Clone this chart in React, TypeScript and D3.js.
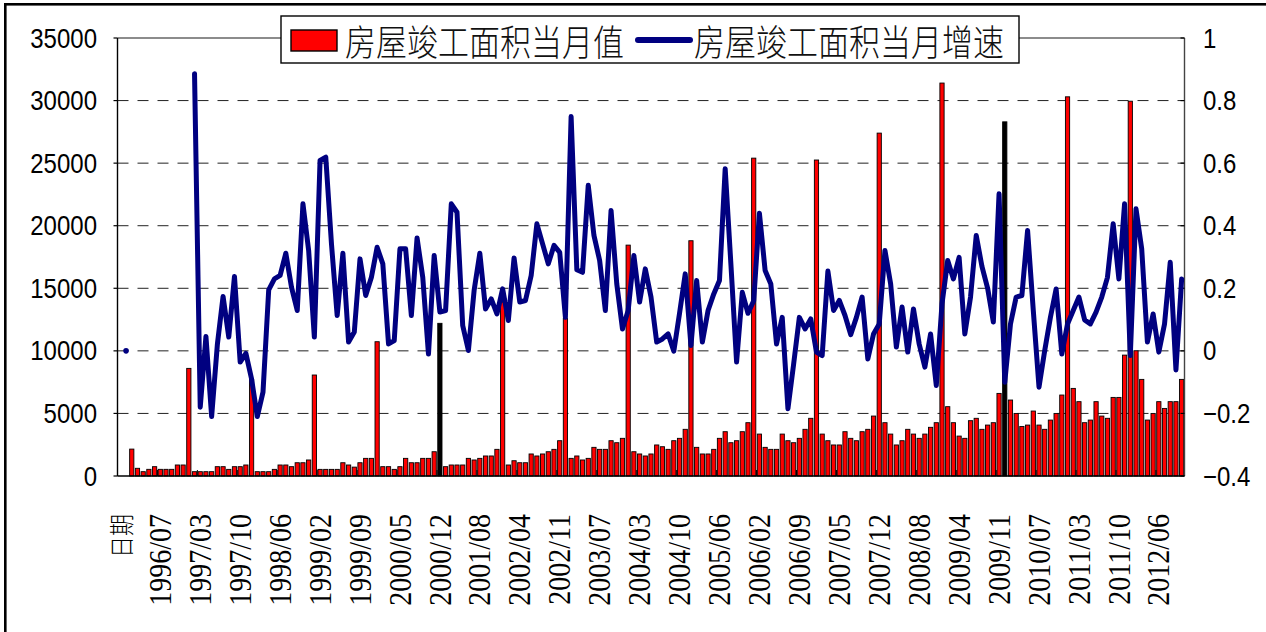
import React from 'react';
import * as d3 from 'd3';

// ---------- DATA ----------
function buildCategories(): string[] {
  const out: string[] = ['日期'];
  for (let m = 1; m <= 12; m++) out.push(`1996/${String(m).padStart(2, '0')}`);
  for (let y = 1997; y <= 2012; y++) {
    for (let m = 2; m <= 12; m++) {
      if (y === 2012 && m > 10) break;
      out.push(`${y}/${String(m).padStart(2, '0')}`);
    }
  }
  return out;
}
const categories: string[] = buildCategories();

const tickLabels: string[] = [
  '日期', '1996/07', '1997/03', '1997/10', '1998/06', '1999/02', '1999/09', '2000/05', '2000/12',
  '2001/08', '2002/04', '2002/11', '2003/07', '2004/03', '2004/10', '2005/06', '2006/02', '2006/09',
  '2007/05', '2007/12', '2008/08', '2009/04', '2009/11', '2010/07', '2011/03', '2011/10', '2012/06',
];

// 房屋竣工面积当月值 (left axis)
const completedArea: (number | null)[] = [
  null, null, 2150, 615, 345, 533, 745, 533, 533, 533, 880, 880, 8600,
  345, 345, 345, 345, 745, 745, 530, 745, 745, 880, 7720,
  345, 345, 345, 530, 880, 880, 745, 1060, 1060, 1280, 8070,
  530, 530, 530, 530, 1060, 880, 710, 1060, 1410, 1410, 10730,
  745, 745, 530, 745, 1410, 1060, 1060, 1410, 1410, 1940, 12200,
  745, 880, 880, 880, 1410, 1280, 1410, 1600, 1600, 2130, 13900,
  880, 1220, 1060, 1060, 1760, 1600, 1760, 1940, 2130, 2820, 12600,
  1410, 1600, 1280, 1410, 2290, 2130, 2130, 2820, 2660, 3010, 18450,
  1940, 1760, 1600, 1760, 2480, 2340, 2130, 2820, 3010, 3730, 18800,
  2290, 1760, 1760, 2130, 3010, 3540, 2660, 2820, 3540, 4260, 25400,
  3350, 2290, 2130, 2130, 3350, 2820, 2660, 3010, 3730, 4610, 25250,
  3350, 2820, 2480, 2480, 3540, 3010, 2820, 3540, 3730, 4790, 27400,
  4260, 3350, 2480, 2820, 3730, 3350, 3010, 3350, 3890, 4260, 31400,
  5540, 4260, 3190, 3010, 4420, 4610, 3730, 4070, 4260, 6600, 28300,
  6070, 5000, 3960, 4070, 5190, 4070, 3730, 4470, 5000, 6470, 30300,
  7000, 5940, 4260, 4470, 5940, 4790, 4610, 6280, 6280, 9660, 29950,
  10010, 7720, 4470, 5000, 5940, 5400, 5940, 5940, 7720,
];

// 房屋竣工面积当月增速 (right axis)
const growthRate: (number | null)[] = [
  null, 0, null, null, null, null, null, null, null, null, null, null, null,
  0.886, -0.18, 0.046, -0.21, 0.02, 0.174, 0.044, 0.238, -0.036, -0.008, -0.09,
  -0.21, -0.132, 0.195, 0.23, 0.241, 0.312, 0.203, 0.129, 0.47, 0.321, 0.044,
  0.609, 0.619, 0.342, 0.113, 0.312, 0.028, 0.06, 0.294, 0.177, 0.235, 0.331,
  0.278, 0.022, 0.033, 0.326, 0.326, 0.113, 0.361, 0.235, -0.01, 0.305, 0.124,
  0.129, 0.47, 0.443, 0.081, 0.001, 0.193, 0.312, 0.134, 0.166, 0.118, 0.198,
  0.097, 0.297, 0.156, 0.161, 0.241, 0.406, 0.342, 0.278, 0.337, 0.315, 0.107,
  0.749, 0.259, 0.251, 0.529, 0.369, 0.289, 0.129, 0.449, 0.214, 0.07, 0.129,
  0.305, 0.156, 0.262, 0.172, 0.028, 0.038, 0.054, -0.001, 0.12, 0.246, 0.017,
  0.225, 0.028, 0.129, 0.182, 0.225, 0.582, 0.278, -0.036, 0.187, 0.12, 0.16,
  0.44, 0.257, 0.214, 0.022, 0.107, -0.185, -0.042, 0.107, 0.07, 0.102, -0.004,
  -0.015, 0.255, 0.129, 0.161, 0.113, 0.052, 0.107, 0.172, -0.026, 0.054, 0.086,
  0.321, 0.214, 0.012, 0.14, -0.004, 0.134, 0.022, -0.052, 0.054, -0.111, 0.15,
  0.289, 0.23, 0.299, 0.054, 0.172, 0.369, 0.27, 0.2, 0.092, 0.502, -0.1,
  0.086, 0.172, 0.177, 0.385, 0.129, -0.116, 0.001, 0.107, 0.198, -0.01, 0.086,
  0.129, 0.172, 0.099, 0.086, 0.124, 0.172, 0.235, 0.406, 0.23, 0.47, -0.015,
  0.454, 0.326, 0.028, 0.118, -0.004, 0.086, 0.283, -0.061, 0.23,
];

const darkBars: string[] = ['2000/12', '2009/12'];

const leftTicks: number[] = [0, 5000, 10000, 15000, 20000, 25000, 30000, 35000];
const rightTicks: number[] = [-0.4, -0.2, 0, 0.2, 0.4, 0.6, 0.8, 1];

const seriesNames: string[] = ['房屋竣工面积当月值', '房屋竣工面积当月增速'];

// ---------- CHART ----------
export default function App() {
  const W = 1266;
  const H = 632;
  const L = 117.5, R = 1184.5, T = 38, B = 476;

  const x = d3.scaleBand<string>().domain(categories).range([L, R]).paddingInner(0.26).paddingOuter(0.13);
  const step = x.step();
  const cx = (c: string) => (x(c) as number) + x.bandwidth() / 2;
  const yL = d3.scaleLinear().domain([0, 35000]).range([B, T]);
  const yR = d3.scaleLinear().domain([-0.4, 1]).range([B, T]);

  const lineData = categories.map((c, i) => ({ c, v: growthRate[i] }));
  const lineGen = d3
    .line<{ c: string; v: number | null }>()
    .defined((d, i) => d.v != null && i > 1)
    .x((d) => cx(d.c))
    .y((d) => yR(d.v as number));
  const pathD = lineGen(lineData) || '';

  const sans = 'Liberation Sans, Arial, sans-serif';
  const serif = 'Liberation Serif, Times New Roman, serif';
  const cjk = 'Noto Sans CJK SC, Noto Sans, sans-serif';

  return (
    <svg width={W} height={H} style={{ position: 'absolute', left: 0, top: 0, background: '#fff' }}>
      <rect x={0} y={0} width={W} height={H} fill="#fff" />
      <rect x={5.3} y={4.3} width={W + 50} height={H + 50} fill="none" stroke="#000" strokeWidth={2.6} />

      {/* gridlines */}
      {leftTicks.filter((t) => t > 0 && t < 35000).map((t) => (
        <line key={'g' + t} x1={L} x2={R} y1={yL(t)} y2={yL(t)} stroke="#222" strokeWidth={1} strokeDasharray="11 9" />
      ))}

      {/* bars */}
      {categories.map((c, i) => {
        const v = completedArea[i];
        if (v == null) return null;
        const dark = darkBars.includes(c);
        return (
          <rect
            key={'b' + i}
            x={x(c) as number}
            y={yL(v)}
            width={x.bandwidth()}
            height={B - yL(v)}
            fill={dark ? '#000' : '#ff0000'}
            stroke="#000"
            strokeWidth={0.9}
          />
        );
      })}

      {/* plot border */}
      <line x1={L} x2={R} y1={T} y2={T} stroke="#666" strokeWidth={1.6} />
      <line x1={R} x2={R} y1={T} y2={B} stroke="#444" strokeWidth={1.4} />
      <line x1={L} x2={L} y1={T} y2={B} stroke="#000" strokeWidth={1.4} />
      <line x1={L} x2={R} y1={B} y2={B} stroke="#000" strokeWidth={1.4} />

      {/* category ticks */}
      {categories.map((c, i) =>
        i % 7 === 0 ? (
          <line key={'ct' + i} x1={(x(c) as number) - (step * 0.13)} x2={(x(c) as number) - (step * 0.13)} y1={B} y2={B - 6} stroke="#000" strokeWidth={1} />
        ) : null
      )}

      {/* left axis */}
      {leftTicks.map((t) => (
        <g key={'l' + t}>
          <line x1={L - 4} x2={L} y1={yL(t)} y2={yL(t)} stroke="#000" strokeWidth={1.2} />
          <text
            transform={`translate(97,${yL(t)}) scale(1,1.16)`}
            textAnchor="end"
            dominantBaseline="central"
            fontFamily={sans}
            fontSize={24}
            fill="#000"
          >
            {t}
          </text>
        </g>
      ))}

      {/* right axis */}
      {rightTicks.map((t) => (
        <g key={'r' + t}>
          <line x1={R - 4} x2={R} y1={yR(t)} y2={yR(t)} stroke="#000" strokeWidth={1.2} />
          <text
            transform={`translate(1203,${yR(t)}) scale(1,1.16)`}
            textAnchor="start"
            dominantBaseline="central"
            fontFamily={sans}
            fontSize={24}
            fill="#000"
          >
            {d3.format('~g')(+t.toFixed(1))}
          </text>
        </g>
      ))}

      {/* x labels */}
      {categories.map((c) =>
        tickLabels.includes(c) ? (
          <text
            key={'xl' + c}
            transform={`translate(${cx(c)},514) rotate(-90) scale(1,1.15)`}
            textAnchor="end"
            dominantBaseline="central"
            style={{ fontFamily: c === '日期' ? cjk : serif, fontWeight: 300 }}
            fontSize={c === '日期' ? 22 : 28}
            fill="#000"
          >
            {c}
          </text>
        ) : null
      )}

      {/* growth line */}
      <path d={pathD} fill="none" stroke="#000080" strokeWidth={5} strokeLinejoin="round" strokeLinecap="round" />
      {categories.map((c, i) =>
        i === 1 && growthRate[i] != null ? (
          <circle key="dot" cx={cx(c)} cy={yR(growthRate[i] as number)} r={2.8} fill="#000080" />
        ) : null
      )}

      {/* legend */}
      <g>
        <rect x={281} y={16} width={738} height={47} fill="#fff" stroke="#000" strokeWidth={1.4} />
        <rect x={291} y={30} width={46} height={21} fill="#ff0000" stroke="#000" strokeWidth={1.4} />
        <text
          transform="translate(345,40) scale(1,1.18)"
          dominantBaseline="central"
          style={{ fontFamily: cjk, fontWeight: 300 }}
          fontSize={31}
          fill="#111"
        >
          {seriesNames[0]}
        </text>
        <line x1={638} x2={690} y1={40} y2={40} stroke="#000080" strokeWidth={6} strokeLinecap="round" />
        <text
          transform="translate(694,40) scale(1,1.18)"
          dominantBaseline="central"
          style={{ fontFamily: cjk, fontWeight: 300 }}
          fontSize={31}
          fill="#111"
        >
          {seriesNames[1]}
        </text>
      </g>
    </svg>
  );
}
